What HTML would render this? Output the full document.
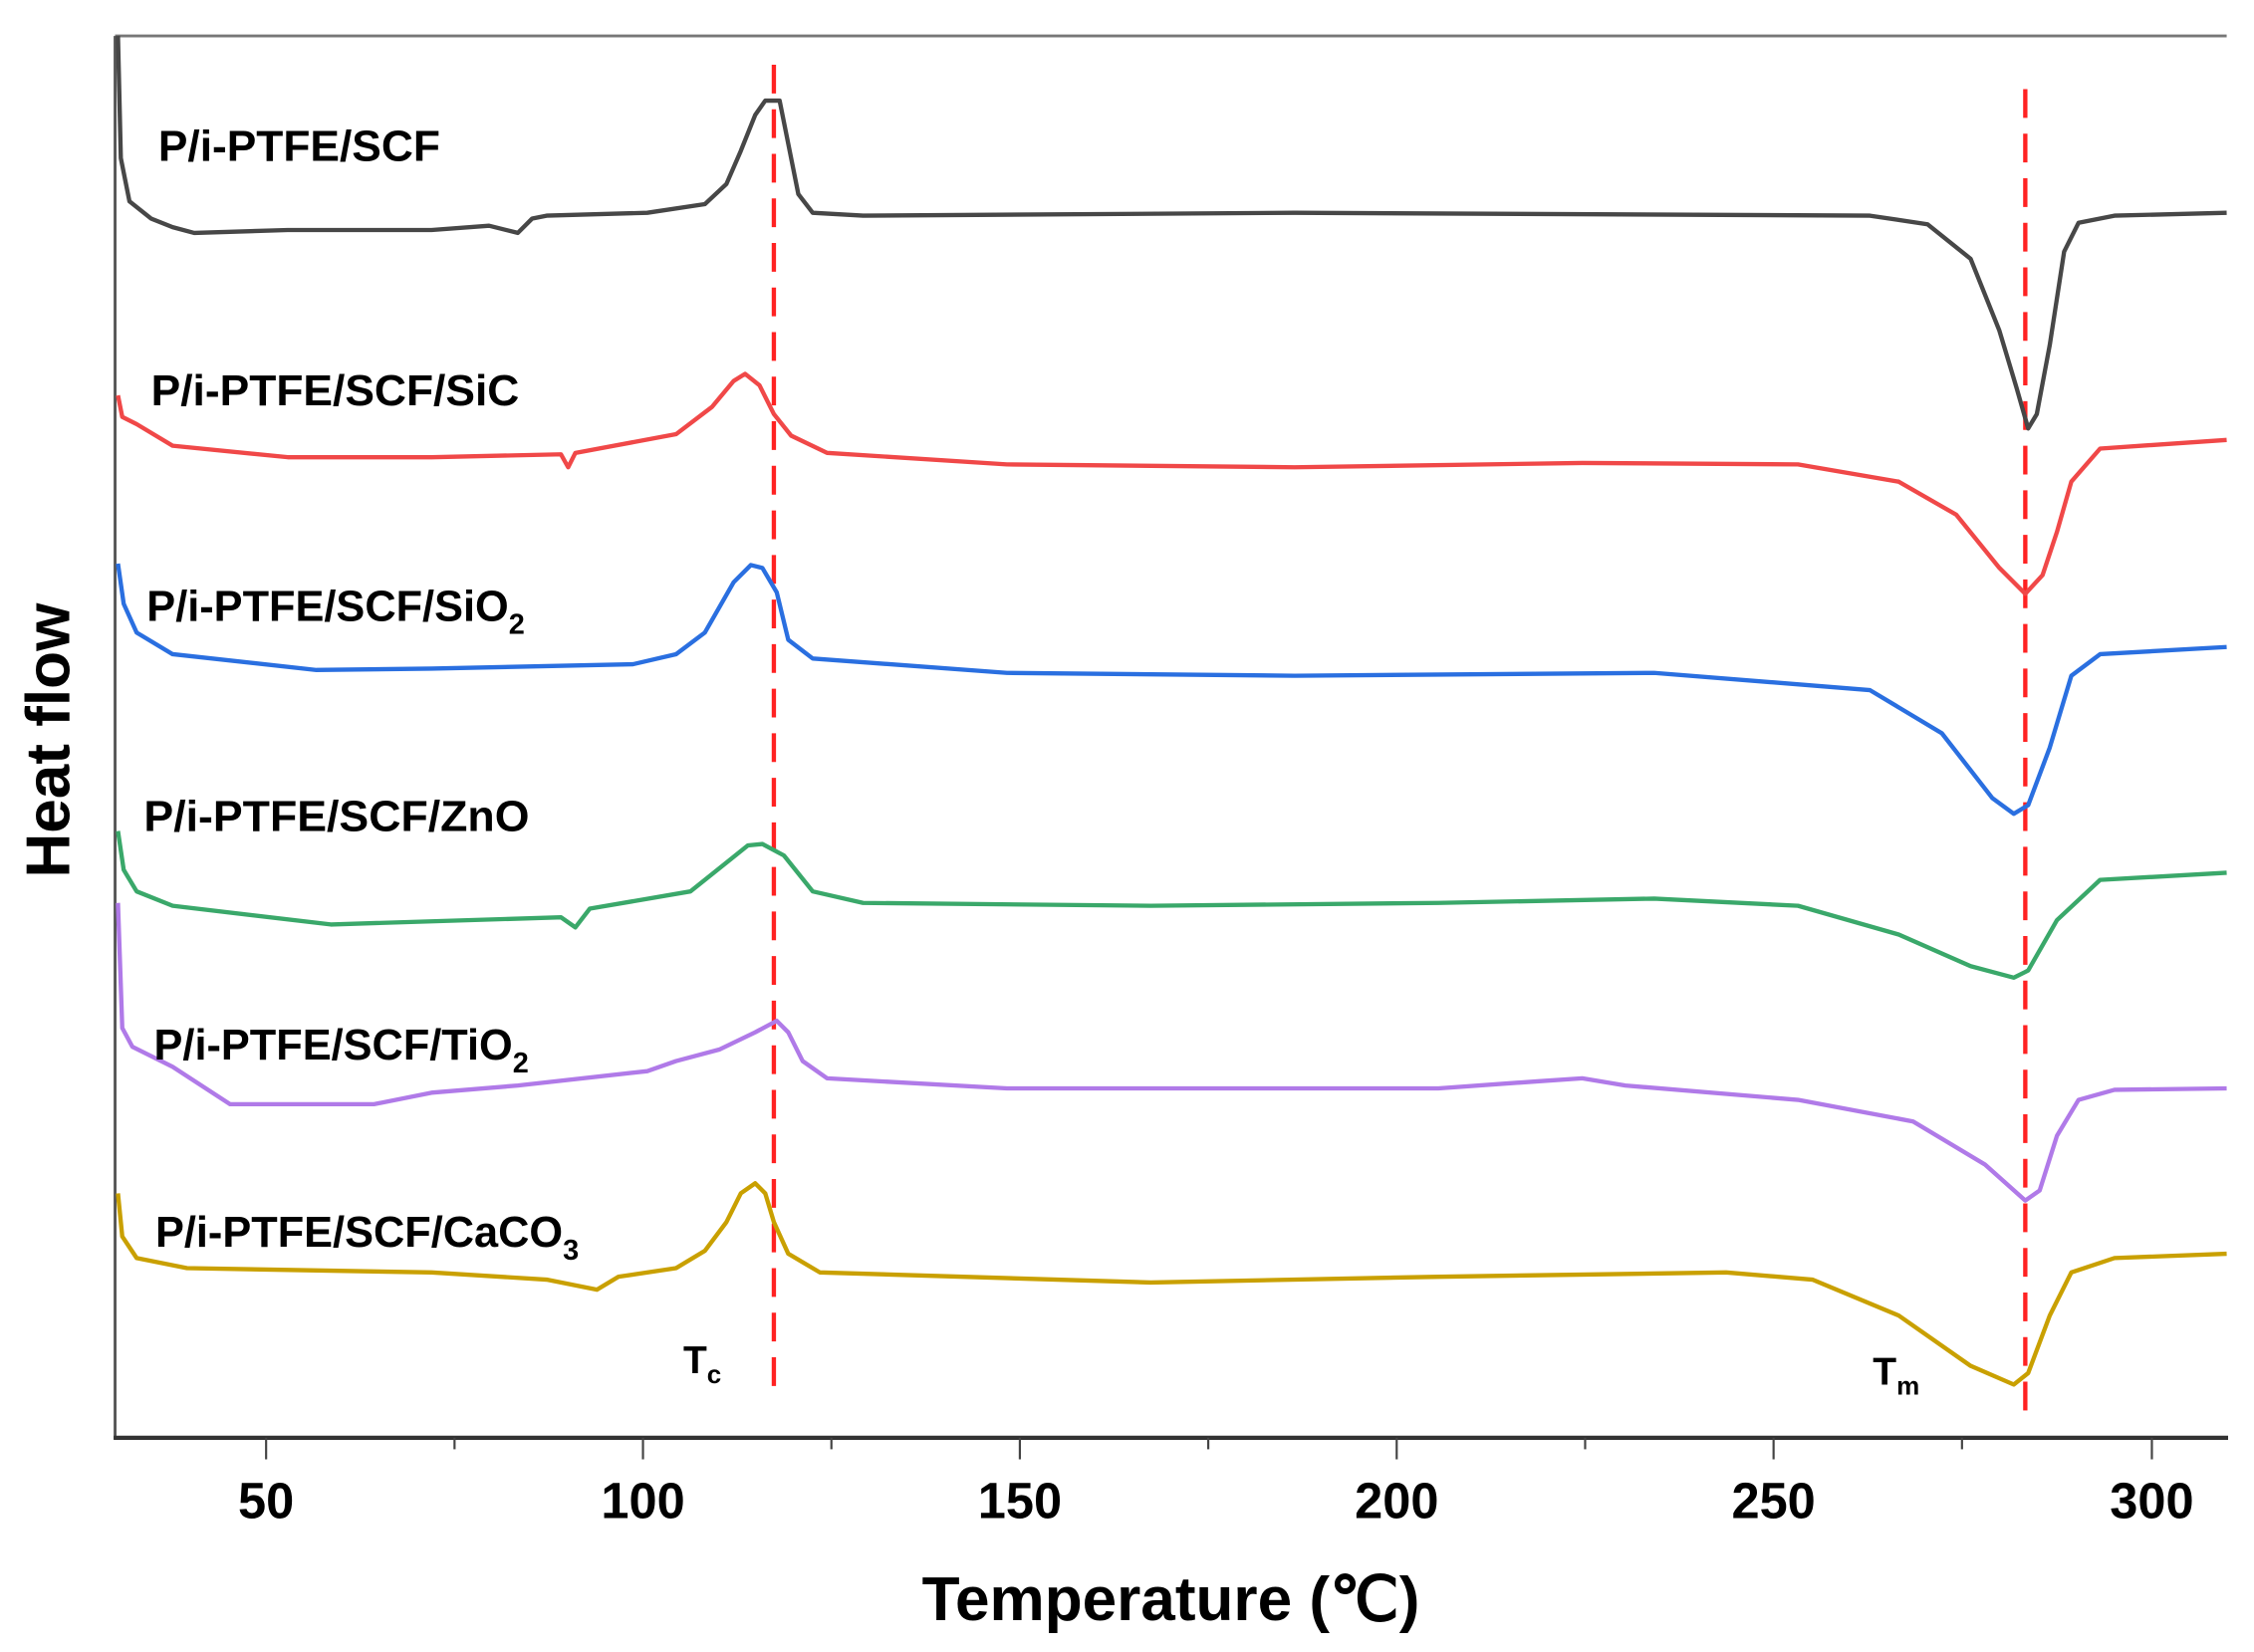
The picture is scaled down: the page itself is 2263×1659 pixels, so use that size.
<!DOCTYPE html>
<html><head><meta charset="utf-8"><style>html,body{margin:0;padding:0;background:#fff}svg{display:block}</style></head>
<body>
<svg width="2263" height="1659" viewBox="0 0 1567 1149" preserveAspectRatio="none" xmlns="http://www.w3.org/2000/svg" font-family="Liberation Sans, Arial, sans-serif" font-weight="bold">
<rect width="1567" height="1149" fill="#fff"/>
<line x1="80" y1="25" x2="1548" y2="25" stroke="#777" stroke-width="2"/>
<line x1="80" y1="25" x2="80" y2="1001" stroke="#555" stroke-width="2"/>
<line x1="79" y1="1000" x2="1549" y2="1000" stroke="#333" stroke-width="3"/>
<g stroke="#444" stroke-width="1.5">
<line x1="185" y1="1000" x2="185" y2="1015"/><line x1="447" y1="1000" x2="447" y2="1015"/><line x1="709" y1="1000" x2="709" y2="1015"/><line x1="971" y1="1000" x2="971" y2="1015"/><line x1="1233" y1="1000" x2="1233" y2="1015"/><line x1="1496" y1="1000" x2="1496" y2="1015"/>
<line x1="316" y1="1000" x2="316" y2="1008"/><line x1="578" y1="1000" x2="578" y2="1008"/><line x1="840" y1="1000" x2="840" y2="1008"/><line x1="1102" y1="1000" x2="1102" y2="1008"/><line x1="1364" y1="1000" x2="1364" y2="1008"/>
</g>
<g font-size="35" text-anchor="middle" fill="#000">
<text x="185" y="1056">50</text><text x="447" y="1056">100</text><text x="709" y="1056">150</text><text x="971" y="1056">200</text><text x="1233" y="1056">250</text><text x="1496" y="1056">300</text>
</g>
<text x="814" y="1127" font-size="43" text-anchor="middle">Temperature (℃)</text>
<text transform="translate(48,515) rotate(-90)" font-size="43" text-anchor="middle">Heat flow</text>
<g stroke="#f22" stroke-width="3" stroke-dasharray="20,11">
<line x1="538" y1="45" x2="538" y2="970"/><line x1="1408" y1="62" x2="1408" y2="985"/>
</g>
<g fill="none" stroke-width="3" stroke-linejoin="round">
<polyline stroke="#474747" points="82,25 84,110 90,140 105,152 120,158 135,162 200,160 300,160 340,157 360,162 370,152 380,150 450,148 490,142 505,128 515,105 525,80 532,70 542,70 548,100 555,135 565,148 600,150 900,148 1300,150 1340,156 1370,180 1390,230 1402,270 1410,298 1416,288 1425,240 1435,175 1445,155 1470,150 1548,148"/>
<polyline stroke="#f04848" points="82,275 85,290 95,295 120,310 200,318 300,318 390,316 395,325 400,315 470,302 495,283 510,265 518,260 528,268 538,288 550,303 575,315 700,323 900,325 1100,322 1250,323 1320,335 1360,358 1390,395 1408,413 1420,400 1430,370 1440,335 1460,312 1548,306"/>
<polyline stroke="#2a6fe0" points="82,392 86,420 95,440 120,455 220,466 300,465 440,462 470,455 490,440 510,405 522,393 530,395 540,412 548,445 565,458 700,468 900,470 1150,468 1300,480 1350,510 1385,555 1400,566 1410,560 1425,520 1440,470 1460,455 1548,450"/>
<polyline stroke="#3aa86a" points="82,578 86,605 95,620 120,630 230,643 390,638 400,645 410,632 480,620 505,600 520,588 530,587 545,595 565,620 600,628 800,630 1000,628 1150,625 1250,630 1320,650 1370,672 1400,680 1410,675 1430,640 1460,612 1548,607"/>
<polyline stroke="#b07ae8" points="82,628 85,715 92,728 120,742 160,768 260,768 300,760 360,755 450,745 470,738 500,730 525,718 540,710 548,718 558,738 575,750 700,757 1000,757 1070,752 1100,750 1130,755 1250,765 1330,780 1380,810 1408,835 1418,828 1430,790 1445,765 1470,758 1548,757"/>
<polyline stroke="#c9a000" points="82,830 85,860 95,875 130,882 300,885 380,890 415,897 430,888 470,882 490,870 505,850 515,830 525,823 532,830 538,850 548,872 570,885 800,892 1000,888 1200,885 1260,890 1320,915 1370,950 1400,963 1410,955 1425,915 1440,885 1470,875 1548,872"/>
</g>
<g font-size="30" fill="#000">
<text x="110" y="112" textLength="196" lengthAdjust="spacingAndGlyphs">P/i-PTFE/SCF</text>
<text x="105" y="282" textLength="256" lengthAdjust="spacingAndGlyphs">P/i-PTFE/SCF/SiC</text>
<text x="102" y="432">P/i-PTFE/SCF/SiO<tspan font-size="20" dy="9">2</tspan></text>
<text x="100" y="578" textLength="268" lengthAdjust="spacingAndGlyphs">P/i-PTFE/SCF/ZnO</text>
<text x="107" y="737">P/i-PTFE/SCF/TiO<tspan font-size="20" dy="9">2</tspan></text>
<text x="108" y="867">P/i-PTFE/SCF/CaCO<tspan font-size="20" dy="9">3</tspan></text>
<text x="475" y="955" font-size="27">T<tspan font-size="18" dy="7">c</tspan></text>
<text x="1302" y="963" font-size="27">T<tspan font-size="18" dy="7">m</tspan></text>
</g>
</svg>
</body></html>
